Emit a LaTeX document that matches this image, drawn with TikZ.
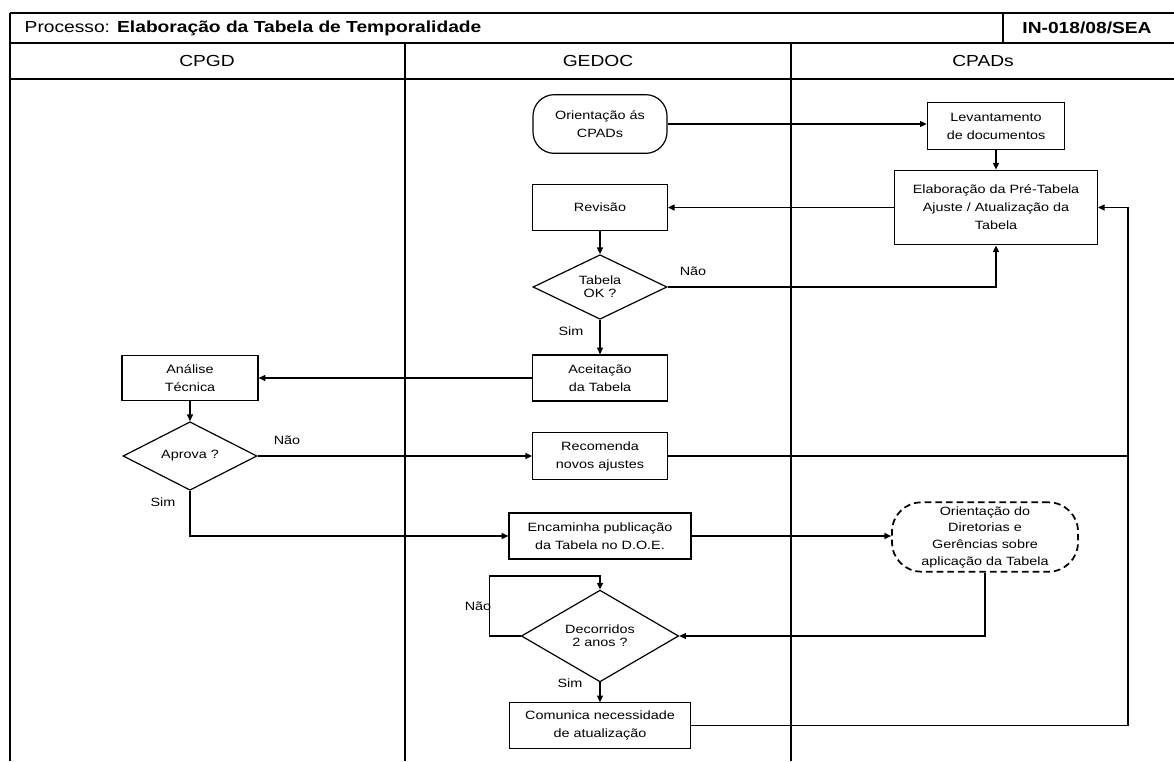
\documentclass[tikz,border=0pt]{standalone}
\usepackage{fontspec}
\setmainfont{Liberation Sans}[FakeStretch=1.2]
\usetikzlibrary{arrows.meta,calc,shapes.geometric}

\tikzset{
	caixa/.style={draw, line width=0.9pt, align=center, inner sep=0pt, font=\fontsize{9}{13.5}\selectfont},
	terminal/.style={caixa, rounded corners=16pt},
	decisao/.style={draw, diamond, line width=0.9pt, align=center, inner sep=0pt, font=\fontsize{9}{10}\selectfont},
	rotulo/.style={font=\fontsize{9}{11}\selectfont, inner sep=1pt},
	seta/.style={line width=0.9pt, -{Triangle[length=5pt,width=4.5pt]}},
	linha/.style={line width=0.9pt}
}

\begin{document}
\begin{tikzpicture}[x=0.75pt, y=-0.75pt]
			%%%%% START %%%%%
			\useasboundingbox (0, 0) rectangle (1174, 761);
			
			% moldura e raias
			\draw[line width=1.2pt] (10, 13) -- (1174, 13);
			\draw[line width=1.2pt] (10, 43) -- (1174, 43);
			\draw[line width=1.2pt] (10, 79) -- (1174, 79);
			\draw[line width=1.6pt] (10, 13) -- (10, 761);
			\draw[line width=1.2pt] (1003, 13) -- (1003, 43);
			\draw[line width=1.2pt] (405, 43) -- (405, 761);
			\draw[line width=1.2pt] (791, 43) -- (791, 761);
			
			\node[anchor=west, font=\fontsize{12}{14}\selectfont] (titulo) at (20, 28) {Processo: \textbf{Elaboração da Tabela de Temporalidade}};
			\node[font=\fontsize{12}{14}\selectfont\bfseries] (codigo) at (1087, 28) {IN-018/08/SEA};
			\node[font=\fontsize{12}{14}\selectfont] (cpgd) at (207, 61) {CPGD};
			\node[font=\fontsize{12}{14}\selectfont] (gedoc) at (598, 61) {GEDOC};
			\node[font=\fontsize{12}{14}\selectfont] (cpads) at (983, 61) {CPADs};
			
			% etapas
			\node[terminal, minimum width=100.5pt, minimum height=44pt] (orient) at (600, 124) {Orientação ás\\CPADs};
			\node[caixa, minimum width=103pt, minimum height=35pt] (lev) at (996, 126) {Levantamento\\de documentos};
			\node[caixa, minimum width=152pt, minimum height=56pt] (elab) at (996, 207.5) {Elaboração da Pré-Tabela\\Ajuste / Atualização da\\Tabela};
			\node[caixa, minimum width=101pt, minimum height=34pt] (rev) at (600, 207.5) {Revisão};
			\node[decisao, minimum width=100.5pt, minimum height=47pt] (tabok) at (600, 287) {Tabela\\OK ?};
			\node[caixa, minimum width=101pt, minimum height=34.5pt] (aceite) at (600, 378) {Aceitação\\da Tabela};
			\node[caixa, minimum width=102pt, minimum height=34pt] (analise) at (190, 378) {Análise\\Técnica};
			\node[decisao, minimum width=100.5pt, minimum height=46pt] (aprova) at (190, 456) {Aprova ?};
			\node[caixa, minimum width=101pt, minimum height=35pt] (recom) at (600, 456) {Recomenda\\novos ajustes};
			\node[caixa, minimum width=136.5pt, minimum height=34.5pt] (encam) at (600, 536) {Encaminha publicação\\da Tabela no D.O.E.};
			\node[caixa, dashed, dash pattern=on 5pt off 3pt, line width=1.3pt, rounded corners=22pt, minimum width=139.5pt, minimum height=52pt, font=\fontsize{9}{12.5}\selectfont] (orientdir) at (985, 537) {Orientação do\\Diretorias e\\Gerências sobre\\aplicação da Tabela};
			\node[decisao, minimum width=118pt, minimum height=46pt] (decorr) at (600, 636) {Decorridos\\2 anos ?};
			\node[caixa, minimum width=136pt, minimum height=34pt] (comunica) at (600, 725.5) {Comunica necessidade\\de atualização};
			
			\coordinate (retorno) at ($(elab.east)+(30, 0)$);
			\coordinate (laco) at (600, 576);
			
			% ligacoes
			\draw[seta] (orient.east) -- (orient.east -| lev.west);
			\draw[seta] (lev) -- (elab);
			\draw[seta] (elab.west) -- (rev.east);
			\draw[seta] (rev) -- (tabok);
			\draw[seta] (tabok.east) -| (elab.south);
			\draw[seta] (tabok) -- (aceite);
			\draw[seta] (aceite) -- (analise);
			\draw[seta] (analise) -- (aprova);
			\draw[seta] (aprova.east) -- (recom.west);
			\draw[linha] (recom.east) -- (recom.east -| retorno);
			\draw[seta] (comunica.east) -| (retorno) -- (elab.east);
			\draw[seta] (aprova.south) |- (encam.west);
			\draw[seta] (encam.east) -- (encam.east -| orientdir.west);
			\draw[seta] (orientdir.south) |- (decorr.east);
			\draw[seta] (decorr.west) -- ++(-31, 0) |- (laco) -- (decorr.north);
			\draw[seta] (decorr) -- (comunica);
			
			\node[rotulo] (nao1) at (693, 271) {Não};
			\node[rotulo] (sim1) at (571, 331) {Sim};
			\node[rotulo] (nao2) at (287, 440) {Não};
			\node[rotulo] (sim2) at (163, 502) {Sim};
			\node[rotulo] (nao3) at (478, 606) {Não};
			\node[rotulo] (sim3) at (570, 683) {Sim};
			
			%%%%% END %%%%%
\end{tikzpicture}
\end{document}
